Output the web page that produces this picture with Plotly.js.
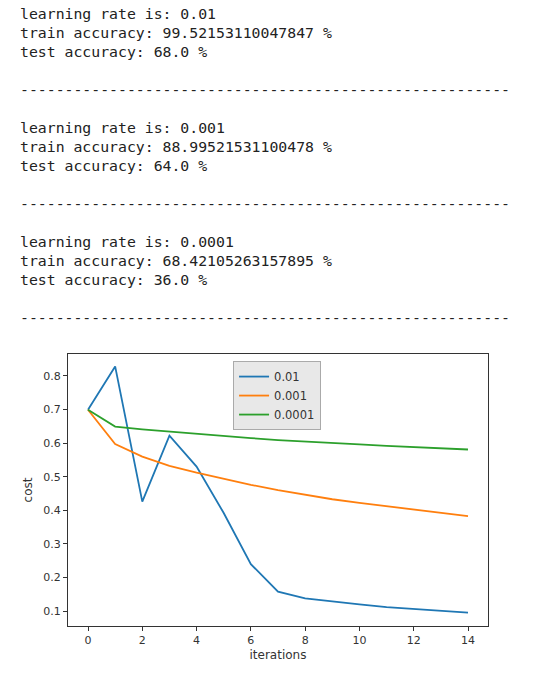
<!DOCTYPE html>
<html>
<head>
<meta charset="utf-8">
<script src="https://cdn.plot.ly/plotly-3.0.1.min.js"></script>
<style>
  body { margin: 0; background: #fff; }
  #log {
    position: absolute; left: 20px; top: 4px; margin: 0;
    font-family: "DejaVu Sans Mono", monospace; font-size: 14.8px;
    line-height: 19px; color: #222; pointer-events: none; z-index: 2;
  }
  #graph { position: absolute; left: 0; top: 0; width: 542px; height: 678px; }
</style>
</head>
<body>
<pre id="log"></pre>
<div id="graph"></div>
<script>
var rates = ['0.01', '0.001', '0.0001'];
var trainAcc = ['99.52153110047847', '88.99521531100478', '68.42105263157895'];
var testAcc = ['68.0', '64.0', '36.0'];

var iterations = [0, 1, 2, 3, 4, 5, 6, 7, 8, 9, 10, 11, 12, 13, 14];
var cost001 = [0.699, 0.828, 0.426, 0.622, 0.530, 0.392, 0.240, 0.158, 0.138, 0.128, 0.120, 0.112, 0.106, 0.101, 0.096];
var cost0001 = [0.699, 0.597, 0.560, 0.532, 0.512, 0.493, 0.476, 0.460, 0.446, 0.433, 0.422, 0.412, 0.402, 0.392, 0.383];
var cost00001 = [0.699, 0.649, 0.641, 0.634, 0.627, 0.621, 0.615, 0.609, 0.604, 0.600, 0.596, 0.592, 0.588, 0.584, 0.581];
var costs = [cost001, cost0001, cost00001];
var colors = ['#1f77b4', '#ff7f0e', '#2ca02c'];

/* ---------- printed log ---------- */
var dashes = new Array(56).join('-');
var text = '';
for (var i = 0; i < rates.length; i++) {
    text += 'learning rate is: ' + rates[i] + '\n';
    text += 'train accuracy: ' + trainAcc[i] + ' %\n';
    text += 'test accuracy: ' + testAcc[i] + ' %\n\n';
    text += dashes + '\n\n';
}
document.getElementById('log').textContent = text;

/* ---------- cost plot ---------- */
var data = [];
for (var j = 0; j < rates.length; j++) {
    data.push({
        x: iterations,
        y: costs[j],
        mode: 'lines',
        name: rates[j],
        line: {color: colors[j], width: 1.8}
    });
}

var axisStyle = {
    showgrid: false,
    zeroline: false,
    showline: true,
    mirror: true,
    linecolor: '#333',
    linewidth: 1,
    ticks: 'outside',
    ticklen: 4,
    tickcolor: '#333',
    tickfont: {size: 11, color: '#333'}
};

var layout = {
    width: 542,
    height: 678,
    margin: {l: 68, r: 54, t: 354, b: 52},
    paper_bgcolor: '#fff',
    plot_bgcolor: '#fff',
    font: {family: 'DejaVu Sans, sans-serif', color: '#333'},
    showlegend: true,
    legend: {
        x: 0.393, y: 0.974, xanchor: 'left', yanchor: 'top',
        bgcolor: '#e8e8e8', bordercolor: '#aaa', borderwidth: 1,
        font: {size: 11.5, color: '#333'},
        tracegroupgap: 0,
        itemwidth: 30
    },
    xaxis: Object.assign({}, axisStyle, {
        range: [-0.737, 14.737],
        tickvals: [0, 2, 4, 6, 8, 10, 12, 14],
        title: {text: 'iterations', font: {size: 12}, standoff: 4}
    }),
    yaxis: Object.assign({}, axisStyle, {
        range: [0.056, 0.865],
        tickvals: [0.1, 0.2, 0.3, 0.4, 0.5, 0.6, 0.7, 0.8],
        tickformat: '.1f',
        title: {text: 'cost', font: {size: 12}, standoff: 8}
    })
};

Plotly.newPlot('graph', data, layout, {staticPlot: true});
</script>
</body>
</html>
